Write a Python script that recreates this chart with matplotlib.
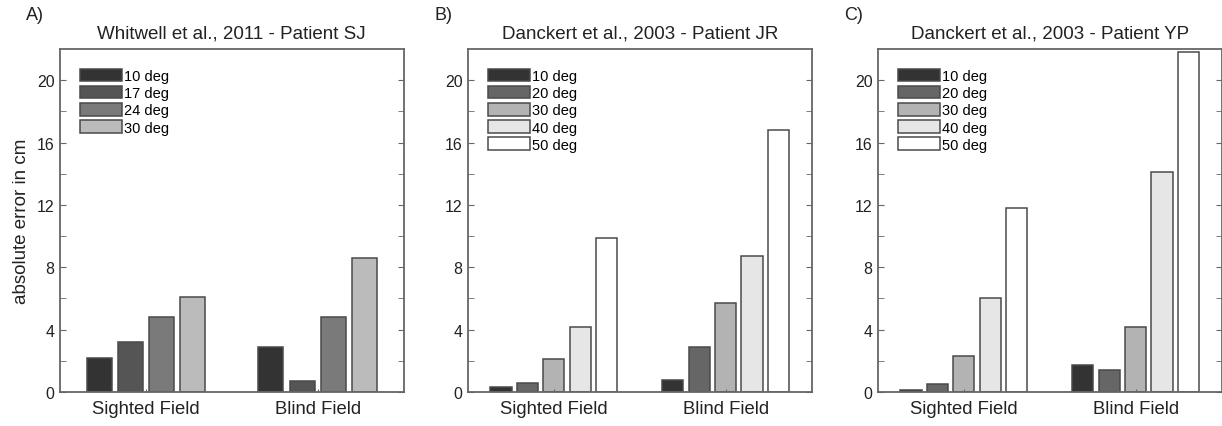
import numpy as np
import matplotlib
matplotlib.use("Agg")
import matplotlib.pyplot as plt

plt.rcParams['font.family'] = ['Liberation Sans', 'DejaVu Sans']

# data
categories = ["Sighted Field", "Blind Field"]

titles = ["Whitwell et al., 2011 - Patient SJ",
          "Danckert et al., 2003 - Patient JR",
          "Danckert et al., 2003 - Patient YP"]
panel_letters = ["A)", "B)", "C)"]

labels_sj = ["10 deg", "17 deg", "24 deg", "30 deg"]
labels_dk = ["10 deg", "20 deg", "30 deg", "40 deg", "50 deg"]

# rows = angle, columns = (sighted, blind)
sj_values = [[2.2, 2.9],
             [3.2, 0.7],
             [4.8, 4.8],
             [6.1, 8.6]]
jr_values = [[0.3, 0.8],
             [0.55, 2.9],
             [2.1, 5.7],
             [4.2, 8.7],
             [9.9, 16.8]]
yp_values = [[0.1, 1.7],
             [0.5, 1.4],
             [2.3, 4.2],
             [6.0, 14.1],
             [11.8, 21.8]]

colors_sj = ["#333333", "#555555", "#7a7a7a", "#bbbbbb"]
colors_dk = ["#333333", "#666666", "#b3b3b3", "#e6e6e6", "#ffffff"]

panels = [(sj_values, labels_sj, colors_sj),
          (jr_values, labels_dk, colors_dk),
          (yp_values, labels_dk, colors_dk)]

fig = plt.figure(figsize=(12.22, 4.27), dpi=100)
W, H = 1222, 427
lefts = [60, 468, 878]
axw, axh = 343.5, 343
bottom = 393

txt = "#222222"
edge = "#4a4a4a"
spine_col = "#666666"

for i, (vals, labs, cols) in enumerate(panels):
    ax = fig.add_axes([lefts[i] / W, 1 - bottom / H, axw / W, axh / H])
    n = len(vals)
    groupw = min(0.8, n / (n + 1.5))
    step = groupw / n
    x = np.arange(1, len(categories) + 1)
    for k in range(n):
        off = (k - (n - 1) / 2) * step
        ax.bar(x + off, vals[k], width=step * 0.8, color=cols[k],
               edgecolor=edge, linewidth=1.1, label=labs[k])

    ax.set_xlim(0.5, 2.5)
    ax.set_ylim(0, 22)
    ax.set_yticks(np.arange(0, 21, 4))
    ax.set_yticks(np.arange(2, 22, 4), minor=True)
    ax.set_xticks(x)
    ax.set_xticklabels(categories, fontsize=13.3, color=txt)
    ax.tick_params(axis='y', which='both', direction='in', left=True, right=True,
                   labelsize=11.5, labelcolor=txt, color=spine_col, pad=4)
    ax.tick_params(axis='y', which='major', length=4)
    ax.tick_params(axis='y', which='minor', length=4)
    ax.tick_params(axis='x', direction='in', length=2, pad=6, color=spine_col)
    for sp in ax.spines.values():
        sp.set_color(spine_col)
        sp.set_linewidth(1.3)

    ax.set_title(titles[i], fontsize=13.5, color=txt, pad=8.5)
    fig.text((lefts[i] - 34) / W, 1 - 15 / H, panel_letters[i],
             fontsize=13, color=txt, va='center')

    ax.legend(loc='upper left', frameon=False, fontsize=10.5,
              handlelength=2.9, handleheight=0.95, handletextpad=0.15,
              labelspacing=0.2, borderaxespad=0.0,
              bbox_to_anchor=(0.04, 0.96))

    if i == 0:
        ax.set_ylabel("absolute error in cm", fontsize=13.5, color=txt, labelpad=5)

fig.savefig("out.png", dpi=100)
